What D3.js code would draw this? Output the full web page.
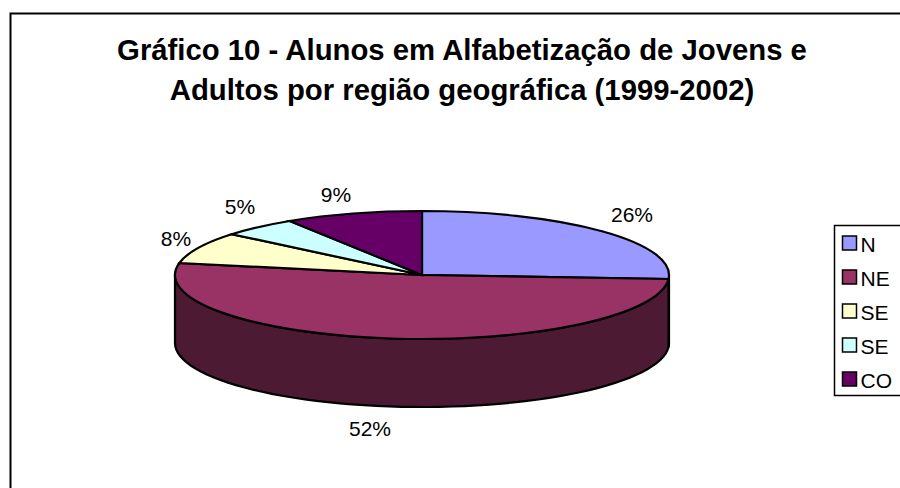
<!DOCTYPE html>
<html>
<head>
<meta charset="utf-8">
<script src="https://cdn.jsdelivr.net/npm/d3@7"></script>
<style>
  body { margin: 0; background: #fff; }
  text { font-family: "Liberation Sans", Arial, sans-serif; fill: #000; }
</style>
</head>
<body>
<svg id="chart" width="900" height="488" style="display:block"></svg>
<script>
const categories = ["N", "NE", "SE", "SE", "CO"];
const values = [26, 52, 8, 5, 9];
const colors = ["#9999FF", "#993366", "#FFFFCC", "#CCFFFF", "#660066"];
const wallColors = ["#4D4D80", "#4D1A33", "#808066", "#668080", "#330033"];
const titleLines = ["Gráfico 10 - Alunos em Alfabetização de Jovens e", "Adultos por região geográfica (1999-2002)"];

const cx = 422, cy = 275, rx = 247, ry = 64, depth = 68;

const svg = d3.select("#chart");

// outer frame, runs off the picture on the right and at the bottom
svg.append("rect")
  .attr("x", 10.5).attr("y", 13.5)
  .attr("width", 1000).attr("height", 1000)
  .attr("fill", "#fff").attr("stroke", "#000").attr("stroke-width", 2);

svg.selectAll("text.title")
  .data(titleLines)
  .join("text")
  .attr("class", "title")
  .attr("x", 462)
  .attr("y", (d, i) => 60 + i * 40)
  .attr("text-anchor", "middle")
  .attr("font-size", 29.3)
  .attr("font-weight", "bold")
  .text(d => d);

const pie = d3.pie().sort(null).value(d => d);
const slices = pie(values);

// angles are measured clockwise from the top, like d3.arc
const px = a => cx + rx * Math.sin(a);
const py = a => cy - ry * Math.cos(a);

// side wall, only the part of a slice on the front half is visible
const wallLine = d3.line();
slices.forEach((s, i) => {
  const a0 = Math.max(s.startAngle, Math.PI / 2);
  const a1 = Math.min(s.endAngle, Math.PI * 1.5);
  if (a1 <= a0) return;
  const top = d3.range(0, 61).map(k => a0 + (a1 - a0) * k / 60);
  const pts = top.map(a => [px(a), py(a)])
    .concat(top.slice().reverse().map(a => [px(a), py(a) + depth]));
  svg.append("path")
    .attr("d", wallLine(pts) + "Z")
    .attr("fill", wallColors[i])
    .attr("stroke", "#000")
    .attr("stroke-width", 2.2);
});

// top of the pie: a flat d3.arc squashed into an ellipse
const arc = d3.arc().innerRadius(0).outerRadius(rx);
svg.append("g")
  .attr("transform", `translate(${cx},${cy}) scale(1,${ry / rx})`)
  .selectAll("path")
  .data(slices)
  .join("path")
  .attr("d", arc)
  .attr("fill", (d, i) => colors[i])
  .attr("stroke", "#000")
  .attr("stroke-width", 2.2)
  .attr("vector-effect", "non-scaling-stroke");

// percent labels
const labelPos = [[632, 222], [370, 436], [176, 246], [240, 214], [336, 202]];
svg.selectAll("text.pct")
  .data(slices)
  .join("text")
  .attr("class", "pct")
  .attr("x", (d, i) => labelPos[i][0])
  .attr("y", (d, i) => labelPos[i][1])
  .attr("text-anchor", "middle")
  .attr("font-size", 21)
  .text(d => d.data + "%");

// legend
const legendY = d3.scalePoint().domain(d3.range(categories.length)).range([243, 379]);
svg.append("rect")
  .attr("x", 834.5).attr("y", 225.5)
  .attr("width", 80).attr("height", 170)
  .attr("fill", "#fff").attr("stroke", "#000").attr("stroke-width", 1.5);
const items = svg.selectAll("g.item")
  .data(categories)
  .join("g")
  .attr("class", "item")
  .attr("transform", (d, i) => `translate(0,${legendY(i)})`);
items.append("rect")
  .attr("x", 842.5).attr("y", -7)
  .attr("width", 14).attr("height", 14)
  .attr("fill", (d, i) => colors[i])
  .attr("stroke", "#000").attr("stroke-width", 1.5);
items.append("text")
  .attr("x", 860.5).attr("y", 8.5)
  .attr("font-size", 21)
  .text(d => d);
</script>
</body>
</html>
